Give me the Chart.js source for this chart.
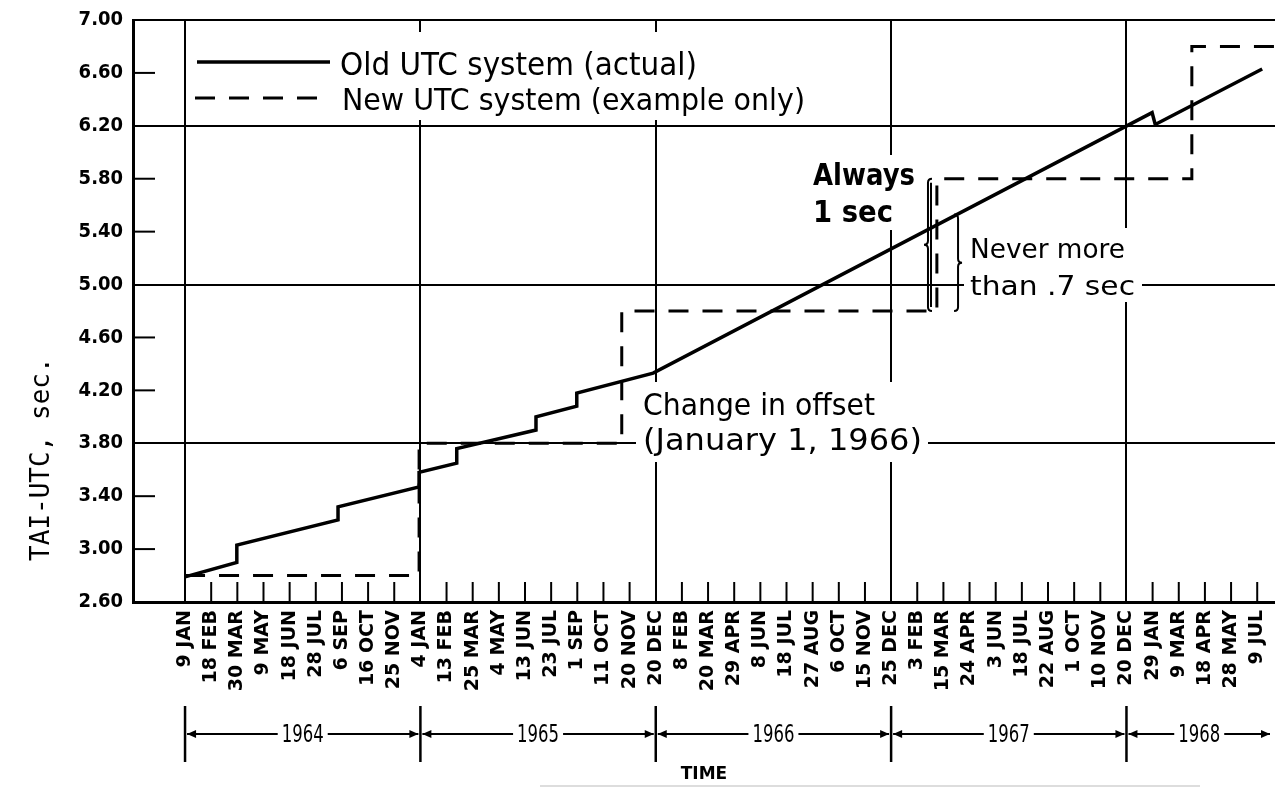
<!DOCTYPE html>
<html lang="en">
<head>
<meta charset="UTF-8">
<title>TAI-UTC: old and new UTC system</title>
<script src="https://cdn.jsdelivr.net/npm/chart.js"></script>
<style>
  html, body { margin: 0; padding: 0; background: #fff; }
  #wrap { width: 1275px; height: 789px; }
</style>
</head>
<body>
<div id="wrap"><canvas id="utcChart"></canvas></div>
<script>
// time axis: one tick every 40 days, the tick index is the x value
const dateLabels = ['9 JAN', '18 FEB', '30 MAR', '9 MAY', '18 JUN', '28 JUL', '6 SEP', '16 OCT', '25 NOV',
  '4 JAN', '13 FEB', '25 MAR', '4 MAY', '13 JUN', '23 JUL', '1 SEP', '11 OCT', '20 NOV', '20 DEC',
  '8 FEB', '20 MAR', '29 APR', '8 JUN', '18 JUL', '27 AUG', '6 OCT', '15 NOV', '25 DEC',
  '3 FEB', '15 MAR', '24 APR', '3 JUN', '18 JUL', '22 AUG', '1 OCT', '10 NOV', '20 DEC',
  '29 JAN', '9 MAR', '18 APR', '28 MAY', '9 JUL'];

const years = ['1964', '1965', '1966', '1967', '1968'];
const yearStarts = [0, 9, 18, 27, 36];

const yTicks = [2.6, 3.0, 3.4, 3.8, 4.2, 4.6, 5.0, 5.4, 5.8, 6.2, 6.6, 7.0];
const yGridLines = [3.8, 5.0, 6.2, 7.0];

// Old UTC system (actual)
const oldX = [0, 1.98, 1.98, 5.85, 5.85, 8.95, 8.95, 10.39, 10.39, 13.42, 13.42, 14.98, 14.98, 17.9, 36.98, 37.1, 41.19];
const oldY = [2.79, 2.90, 3.03, 3.22, 3.32, 3.47, 3.58, 3.65, 3.76, 3.90, 4.00, 4.08, 4.18, 4.33, 6.30, 6.21, 6.63];

// New UTC system (example only)
const newX = [0, 8.95, 8.95, 16.70, 16.70, 28.75, 28.75, 38.50, 38.50, 41.8];
const newY = [2.80, 2.80, 3.80, 3.80, 4.80, 4.80, 5.80, 5.80, 6.80, 6.80];

const SANS = '"DejaVu Sans", sans-serif';
const NARROW = '"DejaVu Sans Condensed", "DejaVu Sans", sans-serif';
const DASH = [20, 14];

function seg(ctx, x1, y1, x2, y2) {
  ctx.beginPath();
  ctx.moveTo(x1, y1);
  ctx.lineTo(x2, y2);
  ctx.stroke();
}

// draw text squeezed/stretched to a given width (the original lettering is condensed)
function fitText(ctx, text, x, y, width, font) {
  ctx.font = font;
  const w = ctx.measureText(text).width;
  ctx.save();
  ctx.translate(x, y);
  ctx.scale(width / w, 1);
  ctx.fillText(text, 0, 0);
  ctx.restore();
}

function brace(ctx, x, y1, y2, dir, w) {
  const ym = (y1 + y2) / 2;
  ctx.beginPath();
  ctx.moveTo(x - dir * w, y1);
  ctx.quadraticCurveTo(x, y1, x, y1 + w);
  ctx.lineTo(x, ym - w);
  ctx.quadraticCurveTo(x, ym, x + dir * w, ym);
  ctx.quadraticCurveTo(x, ym, x, ym + w);
  ctx.lineTo(x, y2 - w);
  ctx.quadraticCurveTo(x, y2, x - dir * w, y2);
  ctx.stroke();
}

// white patches that break the grid behind the lettering
const patches = [
  { x: 190, y: 32, w: 625, h: 88 },
  { x: 808, y: 155, w: 112, h: 75 },
  { x: 964, y: 228, w: 178, h: 74 },
  { x: 636, y: 382, w: 292, h: 80 }
];

const notes = [
  { text: 'Old UTC system (actual)', x: 340, y: 75, w: 357, font: '32px ' + SANS },
  { text: 'New UTC system (example only)', x: 342, y: 110, w: 463, font: '31px ' + SANS },
  { text: 'Always', x: 813, y: 185, w: 102, font: 'bold 31px ' + SANS },
  { text: '1 sec', x: 813, y: 222, w: 80, font: 'bold 30px ' + SANS },
  { text: 'Never more', x: 970, y: 258, w: 155, font: '27px ' + SANS },
  { text: 'than .7 sec', x: 970, y: 295, w: 165, font: '27px ' + SANS },
  { text: 'Change in offset', x: 643, y: 415, w: 232, font: '31px ' + SANS },
  { text: '(January 1, 1966)', x: 643, y: 450, w: 279, font: '31px ' + SANS }
];

const extras = {
  id: 'extras',
  beforeDatasetsDraw(chart) {
    const { ctx, chartArea: a, scales: { x, y } } = chart;
    ctx.save();
    ctx.strokeStyle = '#000';
    ctx.fillStyle = '#000';
    ctx.lineWidth = 2;

    // short ticks pointing into the plot
    dateLabels.forEach((_, i) => {
      if (yearStarts.includes(i)) return;
      const px = x.getPixelForValue(i);
      seg(ctx, px, a.bottom, px, a.bottom - 20);
    });
    yTicks.forEach(v => {
      if (v === yTicks[0] || yGridLines.some(g => Math.abs(g - v) < 1e-6)) return;
      const py = y.getPixelForValue(v);
      seg(ctx, a.left, py, a.left + 22, py);
    });

    ctx.fillStyle = '#fff';
    patches.forEach(p => ctx.fillRect(p.x, p.y, p.w, p.h));

    // legend samples
    ctx.lineWidth = 3.5;
    seg(ctx, 197, 62, 330, 62);
    ctx.setLineDash(DASH);
    ctx.lineWidth = 3;
    seg(ctx, 195, 98, 322, 98);
    ctx.setLineDash([]);

    ctx.fillStyle = '#000';
    ctx.textAlign = 'left';
    ctx.textBaseline = 'alphabetic';
    notes.forEach(n => fitText(ctx, n.text, n.x, n.y, n.w, n.font));

    // brackets
    ctx.lineWidth = 2;
    const bx1 = x.getPixelForValue(28.41);
    brace(ctx, bx1, y.getPixelForValue(5.80), y.getPixelForValue(4.80), -1, 4);
    seg(ctx, bx1 + 3, y.getPixelForValue(5.80) + 4, bx1 + 3, y.getPixelForValue(4.80) - 4);
    const bx2 = x.getPixelForValue(29.56);
    brace(ctx, bx2, y.getPixelForValue(5.53), y.getPixelForValue(4.80), 1, 4);
    ctx.restore();
  },
  afterDraw(chart) {
    const { ctx, chartArea: a, scales: { x, y } } = chart;
    ctx.save();
    ctx.fillStyle = '#000';
    ctx.strokeStyle = '#000';

    // y axis title
    ctx.font = '26px "DejaVu Sans Mono", monospace';
    ctx.textAlign = 'center';
    ctx.textBaseline = 'middle';
    ctx.save();
    ctx.translate(42, y.getPixelForValue(3.68));
    ctx.rotate(-Math.PI / 2);
    ctx.fillText('TAI-UTC, sec.', 0, 0);
    ctx.restore();

    // year brackets under the date labels
    const rowY = 734;
    ctx.lineWidth = 2.5;
    const bounds = yearStarts.map(i => x.getPixelForValue(i));
    bounds.forEach(px => seg(ctx, px, rowY - 28, px, rowY + 28));
    const ends = bounds.slice(1).concat([a.right - 3]);
    ctx.lineWidth = 2;
    years.forEach((yr, k) => {
      const x1 = bounds[k] + 2, x2 = ends[k] - 2;
      const mid = (x1 + x2) / 2;
      const tw = 42;
      seg(ctx, x1, rowY, mid - tw / 2 - 4, rowY);
      seg(ctx, mid + tw / 2 + 4, rowY, x2, rowY);
      [[x1, 1], [x2, -1]].forEach(([ax, d]) => {
        ctx.beginPath();
        ctx.moveTo(ax, rowY);
        ctx.lineTo(ax + d * 9, rowY - 4);
        ctx.lineTo(ax + d * 9, rowY + 4);
        ctx.closePath();
        ctx.fill();
      });
      ctx.textAlign = 'left';
      ctx.textBaseline = 'middle';
      fitText(ctx, yr, mid - tw / 2, rowY + 1, tw, '25px ' + SANS);
    });

    // faint rule under the axis title
    ctx.strokeStyle = '#bbb';
    ctx.lineWidth = 1;
    seg(ctx, 540, 786, 1200, 786);
    ctx.restore();
  }
};

new Chart(document.getElementById('utcChart'), {
  type: 'scatter',
  data: {
    datasets: [
      {
        label: 'Old UTC system (actual)',
        data: oldX.map((v, i) => ({ x: v, y: oldY[i] })),
        showLine: true,
        borderColor: '#000',
        borderWidth: 3.5,
        pointRadius: 0,
        tension: 0
      },
      {
        label: 'New UTC system (example only)',
        data: newX.map((v, i) => ({ x: v, y: newY[i] })),
        showLine: true,
        borderColor: '#000',
        borderWidth: 3,
        borderDash: DASH,
        pointRadius: 0,
        tension: 0
      }
    ]
  },
  options: {
    responsive: true,
    maintainAspectRatio: false,
    animation: false,
    layout: { padding: { top: 20, right: 0, bottom: 0, left: 0 } },
    plugins: { legend: { display: false }, tooltip: { enabled: false } },
    scales: {
      x: {
        type: 'linear',
        min: -1.99,
        max: 41.68,
        afterBuildTicks: s => { s.ticks = dateLabels.map((_, i) => ({ value: i })); },
        afterFit: s => { s.height = 187; s.paddingLeft = 0; s.paddingRight = 0; },
        grid: {
          color: c => (c.tick && yearStarts.includes(c.tick.value)) ? '#000' : 'rgba(0,0,0,0)',
          lineWidth: 2,
          drawTicks: false
        },
        border: { color: '#000', width: 3 },
        ticks: {
          autoSkip: false,
          minRotation: 90,
          maxRotation: 90,
          padding: 8,
          color: '#000',
          font: { family: SANS, size: 19, weight: 'bold' },
          callback: (v, i) => dateLabels[i]
        },
        title: {
          display: true,
          text: 'TIME',
          color: '#000',
          font: { family: SANS, size: 17, weight: 'bold' },
          padding: { top: 0, bottom: 4 }
        }
      },
      y: {
        min: 2.6,
        max: 7.0,
        afterBuildTicks: s => { s.ticks = yTicks.map(v => ({ value: v })); },
        afterFit: s => { s.width = 133; s.paddingTop = 0; s.paddingBottom = 0; },
        grid: {
          color: c => (c.tick && yGridLines.some(g => Math.abs(g - c.tick.value) < 1e-6)) ? '#000' : 'rgba(0,0,0,0)',
          lineWidth: 2,
          drawTicks: false
        },
        border: { color: '#000', width: 3 },
        ticks: {
          padding: 10,
          color: '#000',
          font: { family: NARROW, size: 20, weight: 'bold' },
          callback: v => v.toFixed(2)
        }
      }
    }
  },
  plugins: [extras]
});
</script>
</body>
</html>
